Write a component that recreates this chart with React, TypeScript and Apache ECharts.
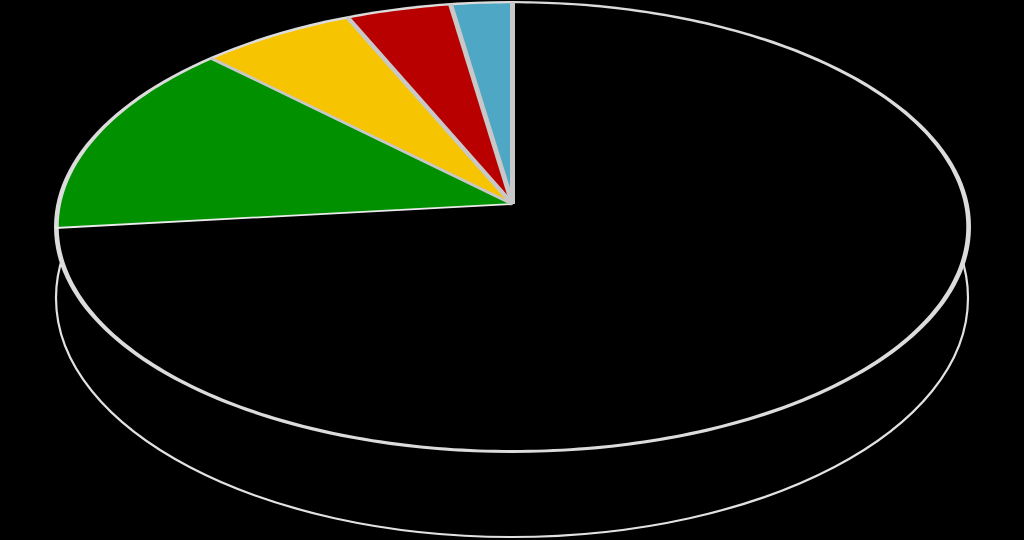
import React, { useEffect, useRef } from "react";
import * as echarts from "echarts";

const sliceNames = ["Slice 1", "Slice 2", "Slice 3", "Slice 4", "Slice 5"];
const sliceValues = [73.3, 14.1, 6.1, 4.1, 2.4];
const sliceColors = ["#000000", "#009000", "#f6c400", "#b90000", "#4ea7c4"];

const W = 1024;
const H = 540;
const APEX_X = 512.5;
const APEX_Y = 204;
const A = 454.6;
const B = 222.6;
const K = 0.1022;
const RIM = "#dcdcdc";

// Perspective projection of the unit disc; theta runs clockwise from the top.
function project(theta: number, r = 1): number[] {
  const X = r * Math.sin(theta);
  const Z = r * Math.cos(theta);
  const d = 1 + K * Z;
  return [APEX_X + (A * X) / d, APEX_Y - (B * Z) / d];
}

const total = sliceValues.reduce((a, b) => a + b, 0);
const toAngle = (v: number) => (v / total) * Math.PI * 2;

export default function App() {
  const ref = useRef<HTMLDivElement>(null);
  useEffect(() => {
    document.body.style.margin = "0";
    document.body.style.background = "#000";
    const chart = echarts.init(ref.current!, null, { renderer: "svg" });
    const data = sliceValues.map((v, i) => ({
      name: sliceNames[i],
      value: [v, sliceValues.slice(0, i).reduce((a, b) => a + b, 0)],
      itemStyle: { color: sliceColors[i] },
    }));
    chart.setOption({
      animation: false,
      backgroundColor: "#000000",
      series: [
        {
          type: "custom",
          coordinateSystem: "none",
          silent: true,
          z: 1,
          data: [0],
          renderItem: () => ({
            type: "group",
            children: [
              {
                type: "ellipse",
                shape: { cx: 512, cy: 298, rx: 456, ry: 239 },
                style: { fill: "#000", stroke: "#e2e2e2", lineWidth: 2.2 },
              },
              {
                type: "ellipse",
                shape: { cx: 512.5, cy: 227, rx: 458.5, ry: 226 },
                style: { fill: RIM },
              },
            ],
          }),
        },
        {
          type: "custom",
          coordinateSystem: "none",
          silent: true,
          z: 2,
          data,
          renderItem: (_: any, api: any) => {
            const v = api.value(0);
            const s = api.value(1);
            const t0 = toAngle(s);
            const t1 = toAngle(s + v);
            const pts: number[][] = [[APEX_X, APEX_Y]];
            const steps = Math.max(6, Math.ceil((t1 - t0) * 60));
            for (let i = 0; i <= steps; i++) {
              pts.push(project(t0 + ((t1 - t0) * i) / steps, 0.993));
            }
            return {
              type: "polygon",
              shape: { points: pts },
              style: { fill: api.visual("color") },
            };
          },
        },
        {
          type: "custom",
          coordinateSystem: "none",
          silent: true,
          z: 3,
          data,
          renderItem: (_: any, api: any) => {
            const t = toAngle(api.value(1));
            const e = project(t, 1);
            const c = Math.abs(Math.cos(t));
            const w = 1.8 + 3.2 * c * c * c;
            return {
              type: "line",
              shape: { x1: APEX_X, y1: APEX_Y, x2: e[0], y2: e[1] },
              style: {
                stroke: c < 0.2 ? "#ececec" : "#c8c8c8",
                lineWidth: w,
              },
            };
          },
        },
      ],
    });
    return () => chart.dispose();
  }, []);
  return <div ref={ref} style={{ width: W, height: H }} />;
}
